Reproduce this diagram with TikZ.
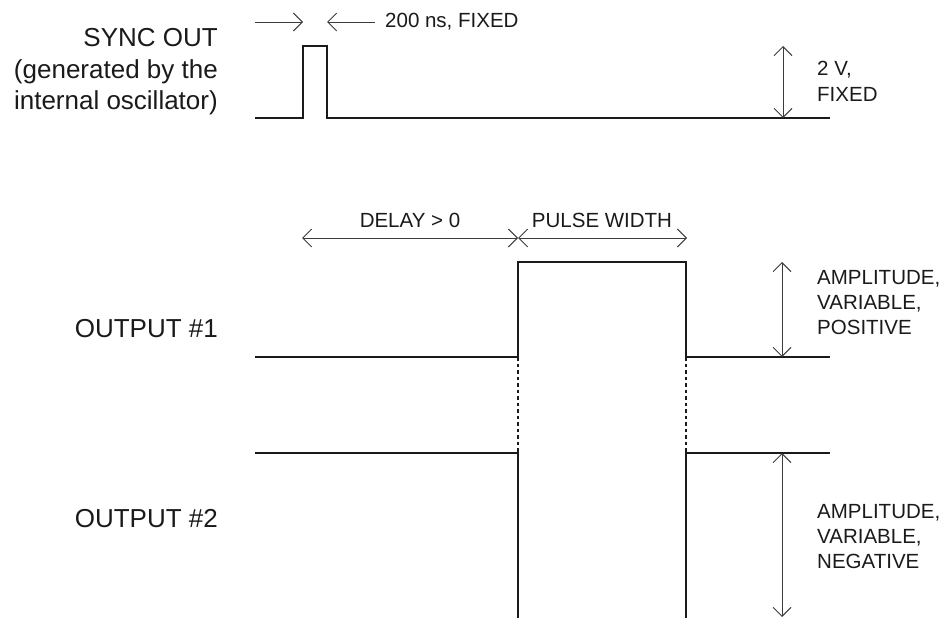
\documentclass[tikz,border=0pt]{standalone}
\usepackage{fontspec}
\setmainfont{Liberation Sans}
\usetikzlibrary{arrows.meta}
\definecolor{grisSenal}{HTML}{1A1A1A}
\definecolor{grisCota}{HTML}{3C3C3C}
\tikzset{
  senal/.style={line width=1.3pt, grisSenal, line join=miter},
  senalPunteada/.style={senal, dash pattern=on 3.5pt off 3pt},
  cotaDoble/.style={{Straight Barb[length=9pt,width=18pt]}-{Straight Barb[length=9pt,width=18pt]},
    line width=0.9pt, grisCota},
  cotaSimple/.style={-{Straight Barb[length=9pt,width=18pt]}, line width=0.9pt, grisCota},
  etiquetaSenal/.style={font=\fontsize{26}{31.5}\selectfont, align=right,
    inner sep=0pt, anchor=base east, text=grisSenal},
  etiquetaCota/.style={font=\fontsize{20.5}{25}\selectfont, align=left,
    inner sep=0pt, anchor=base west, text=grisSenal},
}
\begin{document}
\begin{tikzpicture}[x=1pt, y=-1pt]
  \useasboundingbox (0,0) rectangle (945,618);

  % SYNC OUT (anchor en la linea de base de la ultima linea)
  \coordinate (s0) at (255,118);
  \coordinate (s1) at (303,118);
  \coordinate (s2) at (303,46);
  \coordinate (s3) at (327,46);
  \coordinate (s4) at (327,118);
  \coordinate (s5) at (830,118);
  \draw[senal] (s0) -- (s1) -- (s2) -- (s3) -- (s4) -- (s5);
  \node[etiquetaSenal] (lblSync) at (218,110)
    {SYNC OUT\\(generated by the\\internal oscillator)};

  \coordinate (a0) at (255,22);
  \coordinate (a1) at (303,22);
  \coordinate (a2) at (375,22);
  \coordinate (a3) at (327,22);
  \draw[cotaSimple] (a0) -- (a1);
  \draw[cotaSimple] (a2) -- (a3);
  \node[etiquetaCota] (lblAncho) at (385,28) {200 ns, FIXED};

  \coordinate (v0) at (783,46);
  \coordinate (v1) at (783,118);
  \draw[cotaDoble] (v0) -- (v1);
  \node[etiquetaCota] (lblSyncAmp) at (817,101) {2 V,\\FIXED};

  % retardo y ancho
  \coordinate (d0) at (302,238);
  \coordinate (d1) at (518,238);
  \coordinate (d2) at (687,238);
  \draw[cotaDoble] (d0) -- (d1);
  \draw[cotaDoble] (d1) -- (d2);
  \node[etiquetaCota, anchor=base] (lblDelay) at (410,227) {DELAY > 0};
  \node[etiquetaCota, anchor=base] (lblPulse) at (602,227) {PULSE WIDTH};

  % OUTPUT #1
  \coordinate (p0) at (255,357);
  \coordinate (p1) at (518,357);
  \coordinate (p2) at (518,262);
  \coordinate (p3) at (686,262);
  \coordinate (p4) at (686,357);
  \coordinate (p5) at (830,357);
  \draw[senal] (p0) -- (p1) -- (p2) -- (p3) -- (p4) -- (p5);
  \node[etiquetaSenal] (lblOut1) at (218,337) {OUTPUT \#1};
  \coordinate (u0) at (782,262);
  \coordinate (u1) at (782,357);
  \draw[cotaDoble] (u0) -- (u1);
  \node[etiquetaCota] (lblOut1Amp) at (817,334) {AMPLITUDE,\\VARIABLE,\\POSITIVE};

  % OUTPUT #2
  \coordinate (n0) at (255,453);
  \coordinate (n1) at (518,453);
  \coordinate (n2) at (518,618);
  \coordinate (n3) at (686,618);
  \coordinate (n4) at (686,453);
  \coordinate (n5) at (830,453);
  \draw[senal] (n0) -- (n1) -- (n2);
  \draw[senal] (n3) -- (n4) -- (n5);
  \draw[senalPunteada] (p1) -- (n1);
  \draw[senalPunteada] (p4) -- (n4);
  \node[etiquetaSenal] (lblOut2) at (218,527) {OUTPUT \#2};
  \coordinate (w0) at (782,453);
  \coordinate (w1) at (782,617);
  \draw[cotaDoble] (w0) -- (w1);
  \node[etiquetaCota] (lblOut2Amp) at (817,568) {AMPLITUDE,\\VARIABLE,\\NEGATIVE};
\end{tikzpicture}
\end{document}
